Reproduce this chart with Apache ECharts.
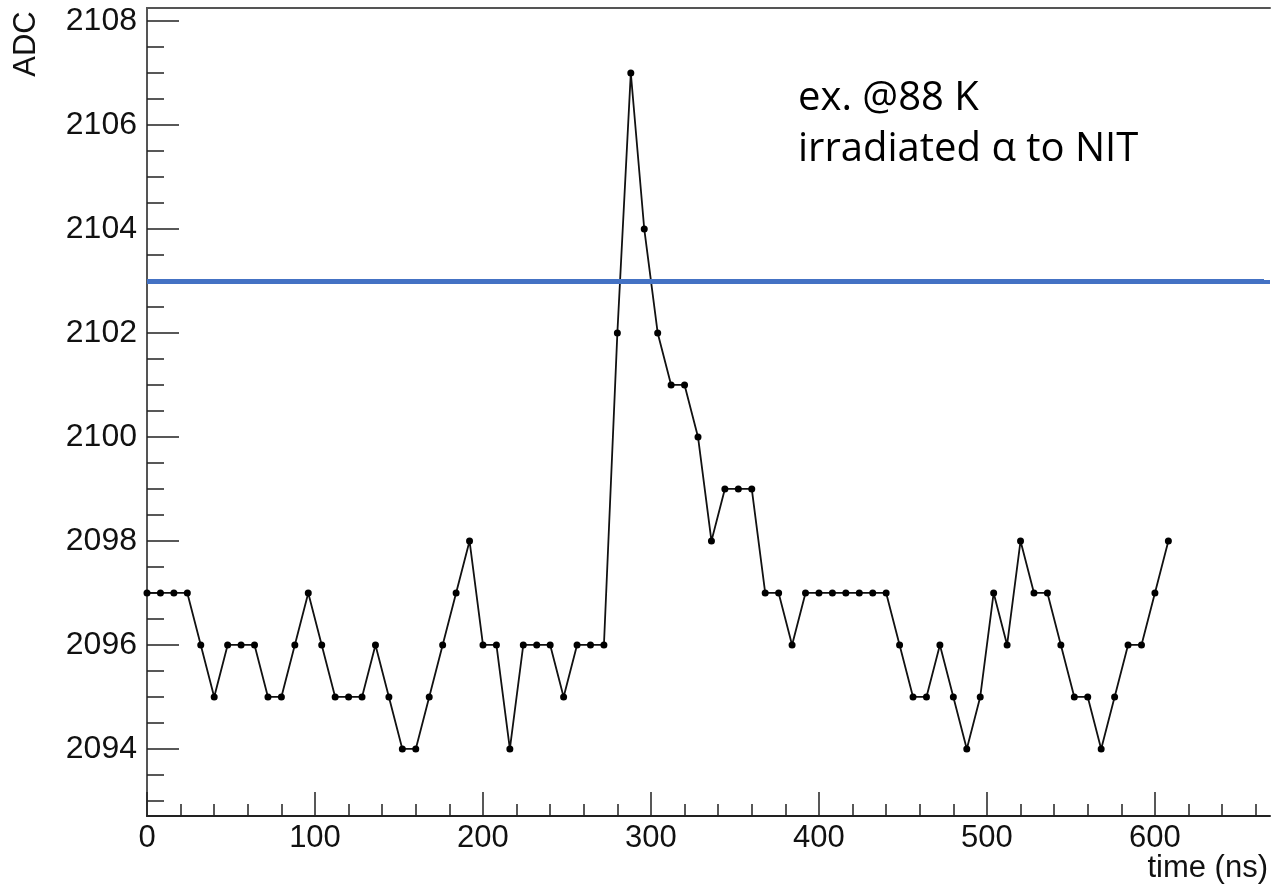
<!DOCTYPE html>
<html><head><meta charset="utf-8">
<script src="https://cdn.jsdelivr.net/npm/echarts@6/dist/echarts.min.js"></script>
<style>html,body{margin:0;padding:0;background:#fff}#c{width:1272px;height:886px}</style>
</head><body><div id="c"></div>
<script>
const timeNs = [0,8,16,24,32,40,48,56,64,72,80,88,96,104,112,120,128,136,144,152,160,168,176,184,192,200,208,216,224,232,240,248,256,264,272,280,288,296,304,312,320,328,336,344,352,360,368,376,384,392,400,408,416,424,432,440,448,456,464,472,480,488,496,504,512,520,528,536,544,552,560,568,576,584,592,600,608];
const adc = [2097,2097,2097,2097,2096,2095,2096,2096,2096,2095,2095,2096,2097,2096,2095,2095,2095,2096,2095,2094,2094,2095,2096,2097,2098,2096,2096,2094,2096,2096,2096,2095,2096,2096,2096,2102,2107,2104,2102,2101,2101,2100,2098,2099,2099,2099,2097,2097,2096,2097,2097,2097,2097,2097,2097,2097,2096,2095,2095,2096,2095,2094,2095,2097,2096,2098,2097,2097,2096,2095,2095,2094,2095,2096,2096,2097,2098];
const xTickLabels = [0,100,200,300,400,500,600];
const xMinorTicks = [0,20,40,60,80,100,120,140,160,180,200,220,240,260,280,300,320,340,360,380,400,420,440,460,480,500,520,540,560,580,600,620,640,660];
const yTickLabels = [2094,2096,2098,2100,2102,2104,2106,2108];
const yMinorTicks = [2093,2093.5,2094,2094.5,2095,2095.5,2096,2096.5,2097,2097.5,2098,2098.5,2099,2099.5,2100,2100.5,2101,2101.5,2102,2102.5,2103,2103.5,2104,2104.5,2105,2105.5,2106,2106.5,2107,2107.5,2108];
const thresholdADC = [2103];
const xRange = [0, 668.5];
const yRange = [2092.71, 2108.25];
const xName = 'time (ns)';
const yName = 'ADC';
const noteLines = ['ex. @88 K', 'irradiated α to NIT'];

const FONT = 'Liberation Sans';
const chart = echarts.init(document.getElementById('c'), null, {renderer: 'canvas'});
const base = {type: 'value', min: xRange[0], max: xRange[1], splitLine: {show: false}};
const ybase = {type: 'value', min: yRange[0], max: yRange[1], splitLine: {show: false}};
const tickStyle = {color: '#222', width: 1.5};
const plain = v => String(v);
chart.setOption({
  animation: false,
  backgroundColor: '#fff',
  grid: {left: 147, right: 2, top: 8, bottom: 70, containLabel: false},
  xAxis: [
    Object.assign({}, base, {position: 'bottom',
      axisLine: {lineStyle: {color: '#222', width: 2}},
      axisTick: {inside: true, length: 24, customValues: xTickLabels, lineStyle: tickStyle},
      axisLabel: {customValues: xTickLabels, formatter: plain, margin: 7, fontSize: 31, fontFamily: FONT, color: '#111'}}),
    Object.assign({}, base, {position: 'bottom',
      axisLine: {show: false},
      axisTick: {inside: true, length: 12, customValues: xMinorTicks, lineStyle: tickStyle},
      axisLabel: {show: false}}),
    Object.assign({}, base, {position: 'top',
      axisLine: {lineStyle: {color: '#555', width: 2}},
      axisTick: {show: false}, axisLabel: {show: false}})
  ],
  yAxis: [
    Object.assign({}, ybase, {position: 'left',
      axisLine: {show: true, lineStyle: {color: '#222', width: 2}},
      axisTick: {show: true, inside: true, length: 32, customValues: yTickLabels, lineStyle: tickStyle},
      axisLabel: {customValues: yTickLabels, formatter: plain, margin: 10, fontSize: 32, fontFamily: FONT, color: '#111'}}),
    Object.assign({}, ybase, {position: 'left',
      axisLine: {show: false},
      axisTick: {show: true, inside: true, length: 17, customValues: yMinorTicks, lineStyle: tickStyle},
      axisLabel: {show: false}}),
    Object.assign({}, ybase, {position: 'right',
      axisLine: {show: true, lineStyle: {color: '#555', width: 2}},
      axisTick: {show: false}, axisLabel: {show: false}})
  ],
  series: [{
    type: 'line',
    xAxisIndex: 0, yAxisIndex: 0,
    data: timeNs.map((t, i) => [t, adc[i]]),
    symbol: 'circle', symbolSize: 7,
    itemStyle: {color: '#000'},
    lineStyle: {color: '#111', width: 1.8},
    clip: false,
    markLine: {
      silent: true, symbol: ['none', 'none'], label: {show: false},
      lineStyle: {color: '#4472C4', width: 5, type: 'solid'},
      data: thresholdADC.map(v => ({yAxis: v}))
    }
  }],
  graphic: [
    {type: 'rect', z: 100, shape: {x: 1264, y: 197, width: 8, height: 83}, style: {fill: '#fff'}},
    {type: 'rect', z: 100, shape: {x: 1264, y: 286, width: 8, height: 104}, style: {fill: '#fff'}},
    {type: 'text', x: 26, y: 44, rotation: Math.PI / 2,
      style: {text: yName, font: '31px "Liberation Sans"', fill: '#111', align: 'center', verticalAlign: 'middle'}},
    {type: 'text', x: 1268, y: 868,
      style: {text: xName, font: '31px "Liberation Sans"', fill: '#111', align: 'right', verticalAlign: 'middle'}},
    {type: 'text', x: 798, y: 99,
      style: {text: noteLines[0], font: '40px "Open Sans"', fill: '#000', align: 'left', verticalAlign: 'middle'}},
    {type: 'text', x: 798, y: 150,
      style: {text: noteLines[1], font: '40px "Open Sans"', fill: '#000', align: 'left', verticalAlign: 'middle'}}
  ]
});
</script>
</body></html>
